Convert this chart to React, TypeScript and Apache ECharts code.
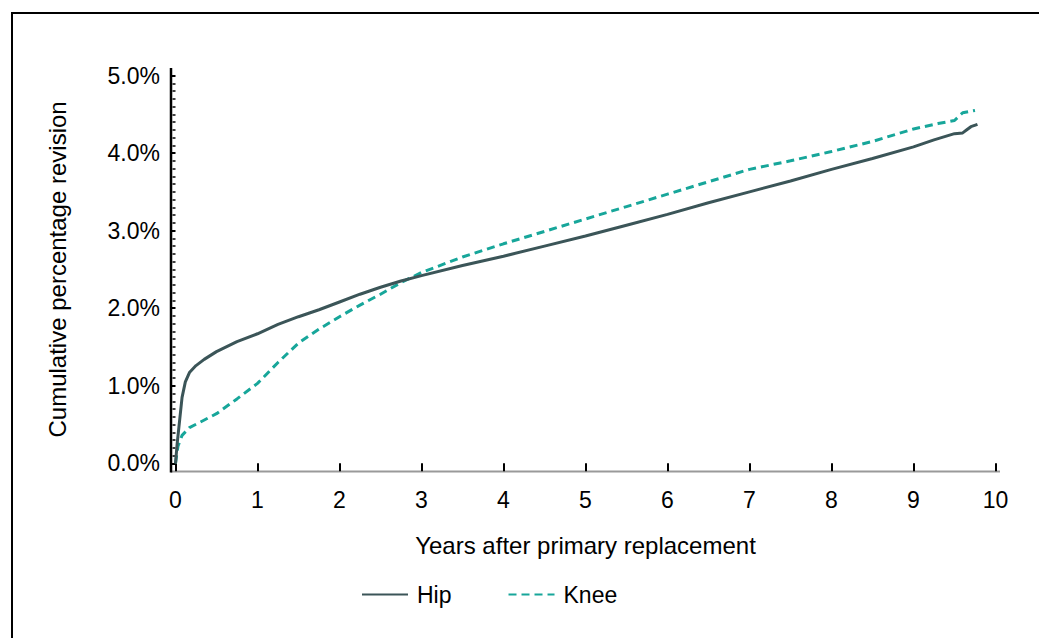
import React, { useEffect, useRef } from "react";
import * as echarts from "echarts";

const hipYears = [0, 0.02, 0.05, 0.08, 0.12, 0.17, 0.25, 0.35, 0.5, 0.75, 1, 1.25, 1.5, 1.75, 2, 2.25, 2.5, 2.75, 3, 3.5, 4, 4.5, 5, 5.5, 6, 6.5, 7, 7.5, 8, 8.5, 9, 9.25, 9.5, 9.6, 9.65, 9.7, 9.78];
const hipValues = [0, 0.25, 0.55, 0.85, 1.05, 1.17, 1.26, 1.34, 1.44, 1.57, 1.67, 1.79, 1.89, 1.98, 2.08, 2.18, 2.27, 2.35, 2.42, 2.55, 2.67, 2.8, 2.93, 3.07, 3.21, 3.36, 3.5, 3.64, 3.79, 3.93, 4.08, 4.17, 4.25, 4.26, 4.3, 4.34, 4.37];

const kneeYears = [0, 0.03, 0.08, 0.17, 0.3, 0.5, 0.75, 1, 1.25, 1.5, 1.75, 2, 2.25, 2.5, 2.75, 3, 3.5, 4, 4.5, 5, 5.5, 6, 6.5, 7, 7.5, 8, 8.5, 9, 9.3, 9.5, 9.6, 9.75];
const kneeValues = [0, 0.22, 0.36, 0.46, 0.53, 0.64, 0.83, 1.03, 1.3, 1.55, 1.73, 1.89, 2.04, 2.18, 2.33, 2.46, 2.66, 2.83, 2.99, 3.15, 3.31, 3.47, 3.63, 3.79, 3.9, 4.02, 4.15, 4.31, 4.38, 4.42, 4.52, 4.55];

const seriesNames = ["Hip", "Knee"];
const xTitle = "Years after primary replacement";
const yTitle = "Cumulative percentage revision";

const FONT = "Liberation Sans, Arial, sans-serif";

export default function App() {
  const ref = useRef<HTMLDivElement>(null);
  useEffect(() => {
    if (!ref.current) return;
    const chart = echarts.init(ref.current, null, { renderer: "svg" });
    const zip = (xs: number[], ys: number[]) => xs.map((x, i) => [x, ys[i]]);
    chart.setOption({
      animation: false,
      backgroundColor: "#ffffff",
      textStyle: { fontFamily: FONT },
      grid: { left: 175.5, right: 43.5, top: 75.5, bottom: 174.7 },
      xAxis: {
        type: "value",
        min: 0,
        max: 10,
        interval: 1,
        offset: 8,
        name: xTitle,
        nameLocation: "middle",
        nameGap: 62,
        nameTextStyle: { fontSize: 24, color: "#000", fontFamily: FONT },
        axisLine: { show: false },
        axisTick: { show: true, length: 8, lineStyle: { color: "#000", width: 2 } },
        axisLabel: { fontSize: 23, color: "#000", margin: 17, fontFamily: FONT },
        splitLine: { show: false },
      },
      yAxis: {
        type: "value",
        min: 0,
        max: 5,
        interval: 1,
        offset: 4.5,
        name: yTitle,
        nameLocation: "middle",
        nameGap: 102,
        nameTextStyle: { fontSize: 24, color: "#000", fontFamily: FONT },
        axisLine: { show: false },
        axisTick: { show: true, length: 5, lineStyle: { color: "#000", width: 2 } },
        minorTick: { show: true, splitNumber: 10, length: 3, lineStyle: { color: "#000", width: 1.5 } },
        axisLabel: {
          fontSize: 23,
          color: "#000",
          margin: 11,
          fontFamily: FONT,
          formatter: (v: number) => v.toFixed(1) + "%",
        },
        splitLine: { show: false },
      },
      legend: {
        left: 356,
        top: 578,
        itemWidth: 46,
        itemHeight: 22,
        itemGap: 56,
        itemStyle: { opacity: 0 },
        textStyle: { fontSize: 23, color: "#000", fontFamily: FONT, padding: [0, 0, 0, 4] },
        data: seriesNames,
      },
      graphic: [
        {
          type: "polyline",
          shape: { points: [[12, 638], [12, 13], [1039, 13]] },
          style: { stroke: "#000", lineWidth: 2, fill: "none" },
          silent: true,
        },
        {
          type: "line",
          shape: { x1: 171, y1: 471.5, x2: 1000, y2: 471.5 },
          style: { stroke: "#9a9a9a", lineWidth: 2 },
          silent: true,
          z: 0,
        },
        {
          type: "line",
          shape: { x1: 171, y1: 68, x2: 171, y2: 472.5 },
          style: { stroke: "#000", lineWidth: 2.5 },
          silent: true,
        },
      ],
      series: [
        {
          name: seriesNames[0],
          type: "line",
          data: zip(hipYears, hipValues),
          showSymbol: false,
          symbol: "none",
          lineStyle: { color: "#3b5558", width: 3 },
          itemStyle: { color: "#3b5558" },
          z: 3,
        },
        {
          name: seriesNames[1],
          type: "line",
          data: zip(kneeYears, kneeValues),
          showSymbol: false,
          symbol: "none",
          lineStyle: { color: "#17a69a", width: 3, type: [8, 5] },
          itemStyle: { color: "#17a69a" },
          z: 2,
        },
      ],
    });
    return () => chart.dispose();
  }, []);
  return (
    <div
      ref={ref}
      style={{ position: "fixed", left: 0, top: 0, width: 1039, height: 638 }}
    />
  );
}
